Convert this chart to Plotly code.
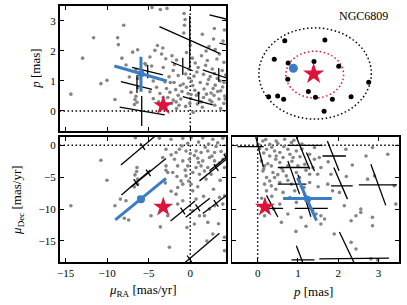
import plotly.graph_objects as go

# ---------------- data ----------------
# top-left: field stars (pmRA, parallax)
tl_field = [(-8.01,2.86),(-11.63,2.44),(-8.73,2.44),(-8.65,2.21),(-6.33,2.04),(-6.93,1.96),(-12.95,1.76),(-8.22,1.76),
 (-7.73,1.53),(-5.33,1.53),(-6.53,1.38),(-7.33,1.13),(-10.02,1.02),(-10.75,0.91),(-14.36,0.56),(-7.13,0.62),(-6.53,0.49),
 (-6.65,0.38),(-6.41,0.29),(-6.72,0.21),(-9.06,0.38),(-6.33,0.77),(-6.3,1.08),
 (-4.6,3.45),(-2.8,3.42),(-0.75,3.25),(-0.62,3.05),(-0.70,2.86),(-0.78,2.6),(1.45,2.56),(2.8,2.4),(3.95,2.33),(2.25,2.15),
 (-3.95,2.18),(-4.25,2.02),(-4.85,1.80),(-3.45,1.9),(-2.95,1.74),(-2.2,1.84),(-1.65,1.70),(-0.45,1.95),(0.25,1.76),(1.35,1.84),
 (2.05,1.68),(3.2,1.73),(4.05,1.62),(-5.45,1.58),(-4.65,1.5),(-3.25,1.45),(-2.05,1.35),(-0.15,1.4),(0.95,1.45),(1.85,1.52),
 (2.65,1.4),(3.85,1.35),(-2.55,1.14),(-1.45,1.18),(-0.55,1.23),(0.45,1.16),(1.6,1.22),(2.4,1.15),(3.25,1.08),(4.25,1.2),
 (-4.45,1.0),(-3.05,0.97),(-1.95,0.95),(-0.85,0.9),(0.15,1.0),(1.2,0.95),(2.05,0.9),(3.0,0.86),(4.05,0.95),(-4.05,0.79),
 (-2.85,0.75),(-1.75,0.71),(-0.45,0.79),(0.55,0.69),(1.65,0.73),(2.75,0.75),(3.65,0.67),(-4.85,0.64),(-3.65,0.58),(-2.45,0.62),
 (-1.45,0.52),(-0.25,0.58),(0.75,0.52),(1.95,0.56),(2.85,0.52),(4.15,0.5),(-4.45,0.41),(-3.25,0.45),(-2.05,0.36),(-1.15,0.4),
 (0.05,0.41),(2.35,0.36),(3.45,0.4),(-2.25,0.25),(-1.35,0.19),(-0.05,0.25),(0.85,0.23),(2.95,0.19),(4.05,0.25),(-1.65,0.08),
 (-0.55,0.15),(1.45,0.12),(3.65,0.08),(0.35,-0.05),(-1.0,0.65),(0.3,0.85),(1.0,0.6),(1.6,0.45),(2.5,0.6),(3.3,0.65),(3.9,0.8),
 (-0.2,1.1),(0.8,1.3),(2.2,1.05),(3.6,1.0),(-1.2,0.85),(0.1,0.55),(1.3,0.3),(2.6,0.3),(4.2,0.4),(-2.7,0.45),(-3.8,0.3),(0.6,1.6),
 (2.9,1.25),(-1.9,1.55),(1.9,2.0),(3.5,1.9),(-3.3,2.1),(-2.4,0.95),(3.0,2.05),(0.0,2.2),(4.1,2.7),(2.9,2.75),(-3.6,3.38),(-1.7,0.3)]

# bottom-left: field stars (pmRA, pmDec)
bl_field = [(-6.6,1.2),(-10.75,-2.34),(-10.02,-5.47),(-14.36,-9.48),(-6.41,-3.48),(-6.45,-4.11),(-6.65,-4.64),(-6.72,-6.52),
 (-6.33,-5.31),(-8.41,-8.44),(-7.73,-8.7),(-9.06,-9.48),(-7.93,-11.45),(-7.41,-11.72),(-6.33,-6.09),
 (-2.92,-3.91),(-2.71,-4.27),(-2.92,-3.23),(-4.72,-11.05),(-1.51,-9.22),(-2.71,-11.05),(-0.9,-8.7),(-1.71,-7.66),(-1.51,-6.61),
 (-0.9,-6.09),(-1.11,-5.58),(-0.51,-4.8),(0.1,-6.09),(0.3,-7.14),(0.7,-8.44),(0.3,-10.27),(0.5,-12.34),(1.11,-11.05),(1.71,-11.05),
 (2.11,-12.08),(2.31,-10.0),(2.92,-9.48),(3.52,-8.17),(4.12,-7.92),(3.92,-9.22),(2.71,-13.91),(4.12,-14.42),(4.12,-16.52),(-2.51,-15.98),
 (-3.71,1.1),(-2.31,0.94),(-0.9,1.09),(0.1,1.2),(1.5,1.15),(2.71,0.94),(3.92,1.1),(-2.92,-0.63),(-1.71,-1.14),(-1.3,-0.63),
 (-0.51,-0.89),(0.7,-0.89),(1.3,-1.14),(2.11,-0.89),(2.92,-1.14),(3.71,-0.98),(4.25,-1.41),(-3.31,-1.92),(-1.9,-2.19),(-0.9,-2.45),
 (-0.1,-2.19),(0.9,-2.03),(1.5,-2.45),(2.31,-1.92),(2.92,-2.45),(3.92,-2.19),(-1.51,-3.23),(-0.3,-3.23),(0.7,-3.48),(1.3,-3.23),
 (2.11,-3.48),(3.11,-3.23),(4.12,-3.48),(-2.11,-4.27),(0.3,-4.27),(1.11,-4.53),(1.71,-4.02),(2.51,-4.53),
 (-0.3,0.3),(1.0,0.5),(2.2,0.2),(3.3,0.4),(-1.0,-0.1),(0.5,-1.6),(1.8,-0.3),(3.1,-0.2),(-2.3,-1.5),(0.0,-1.3),(2.6,-1.7),
 (3.5,-2.8),(-0.6,-3.9),(1.0,-2.7),(1.9,-5.3),(-1.6,-4.9),(-0.2,-5.6),(0.9,-6.5),(-3.0,-5.9),(2.8,-6.9),(3.6,-5.5),(-2.3,-7.2),
 (1.6,-8.0),(-0.4,-12.9),(3.4,-12.3),(-3.6,-12.8),(2.0,-15.0)]

# bottom-right: field stars (parallax, pmDec)
br_field = [(0.01,0.16),(0.13,0.67),(0.3,0.16),(0.46,0.67),(0.67,0.94),(0.84,0.42),(0.22,-0.63),(0.42,-0.89),(0.55,-1.14),
 (0.75,-0.63),(0.96,-0.89),(0.3,-1.67),(0.46,-1.67),(0.63,-1.92),(0.88,-1.92),(1.29,-1.41),(1.41,-2.19),(0.09,-2.45),(0.17,-3.23),
 (0.34,-3.23),(0.55,-2.7),(0.75,-3.23),(1.0,-3.23),(1.17,-2.97),(1.37,-3.48),(0.13,-4.02),(0.38,-4.27),(0.63,-4.02),(0.96,-4.27),
 (1.29,-4.53),(0.22,-5.05),(0.42,-5.05),(0.71,-4.8),(1.04,-5.05),(0.17,-6.09),(0.34,-6.36),(0.55,-5.83),(0.84,-6.09),(1.29,-5.83),
 (0.63,-7.39),(0.92,-7.14),(0.22,-7.14),(0.55,-9.22),(0.96,-8.95),(0.75,-10.78),(0.59,-12.08),(1.08,-11.3),(1.37,-10.27),(0.17,-11.05),
 (1.41,-0.36),(1.53,-1.92),(1.57,-3.48),(1.49,-4.53),(1.82,-4.53),(1.74,-6.09),(1.86,-7.14),(2.03,-7.39),(2.19,-0.63),(2.85,-0.36),
 (3.23,-1.41),(2.69,-1.67),(2.73,-5.31),(2.9,-4.8),(3.39,-6.36),(3.43,-9.22),(2.15,-9.48),(2.44,-11.05),(2.32,-11.83),(2.56,-10.0),
 (2.56,-10.52),(2.85,-11.3),(2.85,-12.61),(1.9,-13.91),(2.32,-15.2),(2.44,-16.25),(2.81,-17.81),(2.98,-17.97),(1.66,-11.56),
 (1.57,-12.34),(1.57,-11.05),(1.45,-10.78),
 (0.2,0.9),(0.5,0.3),(0.9,0.8),(1.1,0.2),(0.35,-0.3),(0.65,-0.2),(1.1,-0.6),(0.15,-1.2),(0.45,-2.2),(0.8,-1.4),(1.05,-1.8),
 (0.25,-2.9),(0.6,-3.6),(0.85,-2.5),(1.2,-3.9),(0.5,-4.6),(0.3,-5.6),(0.75,-5.5),(1.15,-6.6),(0.45,-6.9),(0.1,-8.3),(0.35,-8.0),
 (0.8,-8.2),(1.5,-6.5),(0.4,-10.0),(1.2,-12.7),(0.95,-13.5),(1.75,-2.6),(2.35,-3.1),(2.2,-4.9),(0.05,-0.5),(0.15,-3.7)]

# candidate members: uncertainty segments (x0, y0, x1, y1)
tl_err_segments = [(-8.49,0.13,-3.07,-0.13),(-5.84,0.5,-5.84,-0.5),
 (-8.34,0.98,-4.60,0.72),(-6.41,1.2,-6.41,0.6),
 (-7.0,1.45,-3.3,1.2),(-5.12,1.53,-5.12,1.09),
 (-3.71,2.81,3.52,1.92),(-0.06,3.17,-0.06,1.43),
 (-2.31,1.64,0.30,1.34),(-0.9,1.77,-0.9,1.2),
 (1.51,1.37,4.9,1.05),(3.43,1.43,3.43,0.97),
 (-0.9,0.48,2.71,0.2),(1.02,0.63,1.02,0.23),
 (2.31,3.2,6.0,2.95),(3.52,2.26,6.0,2.1)]

bl_member_center = [(-5.72,-0.2),(-6.53,-5.83),(-5.04,-4.33),(3.11,-3.48),(4.3,-1.9),(-0.9,-10.3),(0.9,-9.8),(3.11,-9.11),(-0.1,-17.8)]
bl_member_major = [(2.62,2.88),(1.75,1.95),(2.12,2.25),(2.0,2.1),(2.0,2.1),(1.47,1.56),(1.45,1.5),(1.6,1.6),(3.61,4.02)]
bl_member_minor = (0.27,-0.52)

br_err_segments = [(-0.05,1.4,0.14,-3.4),(-0.5,-0.2,0.15,-0.2),
 (0.96,1.3,1.29,-3.75),(0.74,0.0,1.61,0.0),
 (1.73,0.68,2.02,-4.0),(1.61,-1.68,2.19,-1.68),
 (0.75,-2.45,1.04,-7.66),(0.5,-6.09,1.21,-6.09),
 (1.21,-1.14,1.41,-4.02),(0.5,-3.48,1.29,-3.48),
 (1.89,-3.48,2.23,-8.44),(1.82,-6.36,2.36,-6.36),
 (2.81,-2.97,3.18,-9.42),(2.51,-6.2,3.46,-6.2),
 (0.22,-7.86,0.5,-11.25),(0.25,-9.89,0.63,-9.89),
 (0.96,-15.75,1.12,-18.4),(0.84,-17.97,1.41,-17.97),
 (2.03,-13.6,2.4,-18.5),(1.53,-17.8,3.26,-17.7),
 (1.0,-4.6,1.32,-11.2),(0.92,-9.9,1.74,-9.9)]

# highlighted star (blue) and cluster (red star)
blue_pmra, blue_pmdec, blue_plx = -5.93, -8.45, 1.24
blue_tl_segs = [(-9.13,1.5,-2.83,1.0),(-5.93,1.81,-5.93,0.64)]
blue_bl_segs = [(-9.02,-11.7,-2.92,-5.2),(-6.3,-8.0,-5.7,-8.9)]
blue_br_segs = [(0.63,-8.33,1.84,-8.33),(0.99,-5.1,1.46,-11.8)]
cluster_pmra, cluster_pmdec, cluster_plx = -3.25, -9.68, 0.18

# sky map panel (offsets)
sky_members_x = [-0.81,0.26,-1.09,-0.72,-0.03,0.63,-0.73,1.43,-0.18,-1.24,-1.00,-0.84,0.01,0.46,0.96,0.24]
sky_members_y = [0.87,0.89,0.38,0.28,0.32,0.19,-0.15,-0.23,-0.48,-0.62,-0.60,-0.68,-0.63,-0.68,-0.62,-1.00]
sky_blue = (-0.58, 0.14)
sky_cluster = (-0.04, -0.01)
outer_ellipse = (0.0, 0.0, 1.50, 1.21)   # cx, cy, a, b
inner_ellipse = (-0.01, -0.03, 0.77, 0.62)
cluster_name = "NGC6809"

# ---------------- figure ----------------
W, H = 407, 305
GRAY = "#858585"
BLUE = "#3a7dc6"
RED = "#dc143c"
FONT = "Liberation Serif"

def px_dom(a, b, total):
    return [a / total, b / total]

xL = px_dom(57, 225, W)
xR = px_dom(231, 399, W)
yT = [1 - 131 / H, 1 - 6 / H]
yB = [1 - 262 / H, 1 - 137 / H]

fig = go.Figure()

def seg_xy(segs):
    xs, ys = [], []
    for x0, y0, x1, y1 in segs:
        xs += [x0, x1, None]
        ys += [y0, y1, None]
    return xs, ys

def field(pts, xa, ya):
    fig.add_trace(go.Scatter(x=[p[0] for p in pts], y=[p[1] for p in pts], mode="markers",
                             marker=dict(size=3.6, color=GRAY), xaxis=xa, yaxis=ya,
                             showlegend=False, hoverinfo="skip"))

def lines(segs, xa, ya, color="black", width=1.3):
    xs, ys = seg_xy(segs)
    fig.add_trace(go.Scatter(x=xs, y=ys, mode="lines", line=dict(color=color, width=width),
                             xaxis=xa, yaxis=ya, showlegend=False, hoverinfo="skip"))

def point(x, y, xa, ya, symbol, color, size):
    fig.add_trace(go.Scatter(x=[x], y=[y], mode="markers",
                             marker=dict(symbol=symbol, color=color, size=size, line=dict(width=0)),
                             xaxis=xa, yaxis=ya, showlegend=False, hoverinfo="skip"))

# top-left
field(tl_field, "x", "y")
lines(tl_err_segments, "x", "y")
lines(blue_tl_segs, "x", "y", BLUE, 3)
point(blue_pmra, blue_plx, "x", "y", "circle", BLUE, 7)
point(cluster_pmra, cluster_plx, "x", "y", "star", RED, 15)

# bottom-left
field(bl_field, "x3", "y3")
bl_segs = []
for (cx, cy), (mx, my) in zip(bl_member_center, bl_member_major):
    bl_segs.append((cx - mx, cy - my, cx + mx, cy + my))
    bl_segs.append((cx - bl_member_minor[0], cy - bl_member_minor[1], cx + bl_member_minor[0], cy + bl_member_minor[1]))
lines(bl_segs, "x3", "y3")
lines(blue_bl_segs, "x3", "y3", BLUE, 3)
point(blue_pmra, blue_pmdec, "x3", "y3", "circle", BLUE, 8)
point(cluster_pmra, cluster_pmdec, "x3", "y3", "star", RED, 15)

# bottom-right
field(br_field, "x4", "y4")
lines(br_err_segments, "x4", "y4")
lines(blue_br_segs, "x4", "y4", BLUE, 3)
point(blue_plx, blue_pmdec, "x4", "y4", "circle", BLUE, 7)
point(cluster_plx, cluster_pmdec, "x4", "y4", "star", RED, 15)

# top-right sky map
fig.add_trace(go.Scatter(x=sky_members_x, y=sky_members_y, mode="markers",
                         marker=dict(size=5, color="black"), xaxis="x2", yaxis="y2",
                         showlegend=False, hoverinfo="skip"))
point(sky_blue[0], sky_blue[1], "x2", "y2", "circle", BLUE, 9)
point(sky_cluster[0], sky_cluster[1], "x2", "y2", "star", RED, 16)

DOT = "1.5px,2.5px"
shapes = []
for (cx, cy, a, b), col in [(outer_ellipse, "black"), (inner_ellipse, RED)]:
    shapes.append(dict(type="circle", xref="x2", yref="y2", x0=cx - a, x1=cx + a, y0=cy - b, y1=cy + b,
                       line=dict(color=col, width=1.5, dash=DOT), layer="below"))
# reference zero lines
dl = dict(color="black", width=1.5, dash=DOT)
shapes += [
    dict(type="line", xref="x", yref="y domain", x0=0, x1=0, y0=0, y1=1, line=dl, layer="below"),
    dict(type="line", xref="x domain", yref="y", x0=0, x1=1, y0=0, y1=0, line=dl, layer="below"),
    dict(type="line", xref="x3", yref="y3", x0=0, x1=0, y0=0, y1=-18.3, line=dl, layer="below"),
    dict(type="line", xref="x3 domain", yref="y3", x0=0, x1=1, y0=0, y1=0, line=dl, layer="below"),
    dict(type="line", xref="x4", yref="y4", x0=0, x1=0, y0=0, y1=-18.3, line=dl, layer="below"),
    dict(type="line", xref="x4 domain", yref="y4", x0=0, x1=1, y0=0, y1=0, line=dl, layer="below"),
]

ax_common = dict(showline=True, linewidth=1.6, linecolor="black", mirror="allticks", ticks="inside",
                 ticklen=4, tickwidth=1, tickcolor="black", showgrid=False, zeroline=False,
                 tickfont=dict(family=FONT, size=11, color="black"))

pmra_range = [-15.72, 4.34]
plx_range_tl = [-0.67, 3.5]
pmdec_range = [-18.3, 1.3]
plx_range_br = [-0.63, 3.51]

fig.update_layout(
    width=W, height=H, margin=dict(l=0, r=0, t=0, b=0),
    paper_bgcolor="white", plot_bgcolor="white",
    xaxis=dict(domain=xL, range=pmra_range, tickvals=[-15, -10, -5, 0], showticklabels=False, anchor="y", **ax_common),
    yaxis=dict(domain=yT, range=plx_range_tl, tickvals=[0, 1, 2, 3], anchor="x", **ax_common),
    xaxis2=dict(domain=xR, range=[-2.21, 2.24], visible=False, anchor="y2"),
    yaxis2=dict(domain=yT, range=[-1.525, 1.79], visible=False, anchor="x2"),
    xaxis3=dict(domain=xL, range=pmra_range, tickvals=[-15, -10, -5, 0], anchor="y3", **ax_common),
    yaxis3=dict(domain=yB, range=pmdec_range, tickvals=[-15, -10, -5, 0], anchor="x3", **ax_common),
    xaxis4=dict(domain=xR, range=plx_range_br, tickvals=[0, 1, 2, 3], anchor="y4", **ax_common),
    yaxis4=dict(domain=yB, range=pmdec_range, tickvals=[-15, -10, -5, 0], showticklabels=False, anchor="x4", **ax_common),
    shapes=shapes,
    font=dict(family=FONT, size=11, color="black"),
)

tf = dict(family=FONT, size=13, color="black")
fig.add_annotation(text="<i>p</i> [mas]", x=33 / W, y=1 - 69 / H, xref="paper", yref="paper",
                   textangle=-90, showarrow=False, font=tf, xanchor="center", yanchor="middle")
fig.add_annotation(text="<i>μ</i><sub>Dec</sub> [mas/yr]", x=15 / W, y=1 - 200 / H, xref="paper", yref="paper",
                   textangle=-90, showarrow=False, font=tf, xanchor="center", yanchor="middle")
fig.add_annotation(text="<i>μ</i><sub>RA</sub> [mas/yr]", x=141 / W, y=1 - 290 / H, xref="paper", yref="paper",
                   showarrow=False, font=tf, xanchor="center", yanchor="middle")
fig.add_annotation(text="<i>p</i> [mas]", x=312 / W, y=1 - 291 / H, xref="paper", yref="paper",
                   showarrow=False, font=tf, xanchor="center", yanchor="middle")
fig.add_annotation(text=cluster_name, x=363 / W, y=1 - 15.5 / H, xref="paper", yref="paper",
                   showarrow=False, font=dict(family=FONT, size=12, color="black"), xanchor="center", yanchor="middle")

fig.write_html("out.html", config={"displayModeBar": False, "staticPlot": True},
               post_script="document.body.style.margin='0';document.body.style.overflow='hidden';")
